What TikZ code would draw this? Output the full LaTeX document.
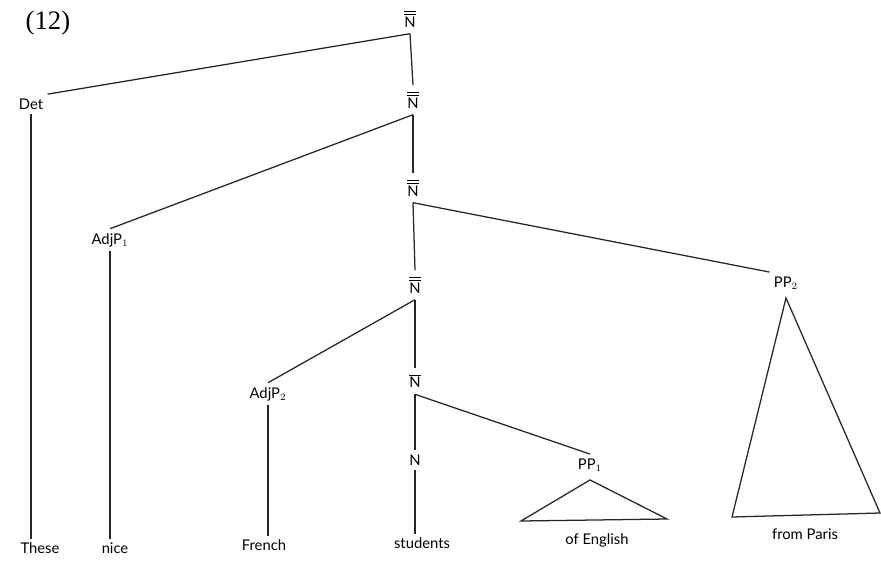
\documentclass[tikz,border=0pt]{standalone}
\usepackage{fontspec}
\setmainfont{Lato}
\newfontfamily\exnumfont{Liberation Serif}
\usetikzlibrary{positioning,calc}

\begin{document}
\begin{tikzpicture}[x=0.025cm,y=-0.025cm,
  cat/.style={font=\fontsize{10.5}{12}\selectfont,inner sep=3pt},
  bar/.style={cat,inner ysep=4.5pt},
  word/.style={font=\fontsize{10.5}{12}\selectfont,inner sep=2pt},
  branch/.style={black!85,line width=0.9pt}]
\useasboundingbox (0,0) rectangle (881,560);
\node[font=\exnumfont\fontsize{19}{22}\selectfont] (exnum) at (48,23) {(12)};
% category labels
\node[bar] (nb1) at (410,19) {$\overline{\overline{\mbox{N}}}$};
\node[bar] (nb2) at (413,100) {$\overline{\overline{\mbox{N}}}$};
\node[bar] (nb3) at (413,188) {$\overline{\overline{\mbox{N}}}$};
\node[bar] (nb4) at (415,285) {$\overline{\overline{\mbox{N}}}$};
\node[bar] (nbar) at (415,381) {$\overline{\mbox{N}}$};
\node[cat] (nhead) at (415,460) {N};
\node[cat] (det) at (31,104) {Det};
\node[cat] (adjpa) at (110,240) {AdjP$_1$};
\node[cat] (adjpb) at (268,394) {AdjP$_2$};
\node[cat] (ppa) at (590,465) {PP$_1$};
\node[cat] (ppb) at (786,283) {PP$_2$};
% words
\node[word] (these) at (40,548) {These};
\node[word] (nice) at (115,548) {nice};
\node[word] (french) at (264,545) {French};
\node[word] (students) at (422,543) {students};
\node[word] (ofeng) at (597,540) {of English};
\node[word] (frompar) at (805,534) {from Paris};
% triangle corners
\coordinate[below=0.1cm of ppa] (tria);
\coordinate (trial) at (521,521);
\coordinate (triar) at (667,519);
\coordinate[below=0.1cm of ppb] (trib);
\coordinate (tribl) at (732,517);
\coordinate (tribr) at (880,513);
% branches
\draw[branch] (nb1.south) -- (det.north east);
\draw[branch] (nb1.south) -- (nb2.north);
\draw[branch] (nb2.south) -- (adjpa.north);
\draw[branch] (nb2.south) -- (nb3.north);
\draw[branch] (nb3.south) -- (ppb.north west);
\draw[branch] (nb3.south) -- (nb4.north);
\draw[branch] (nb4.south) -- (adjpb.north);
\draw[branch] (nb4.south) -- (nbar.north);
\draw[branch] (nbar.south) -- (ppa.north);
\draw[branch] (nbar.south) -- (nhead.north);
\draw[branch] (det.south) -- (det.south |- these.north);
\draw[branch] (adjpa.south) -- (adjpa.south |- nice.north);
\draw[branch] (adjpb.south) -- (adjpb.south |- french.north);
\draw[branch] (nhead.south) -- (nhead.south |- students.north);
\draw[branch] (tria) -- (trial) -- (triar) -- cycle;
\draw[branch] (trib) -- (tribl) -- (tribr) -- cycle;
\end{tikzpicture}
\end{document}
